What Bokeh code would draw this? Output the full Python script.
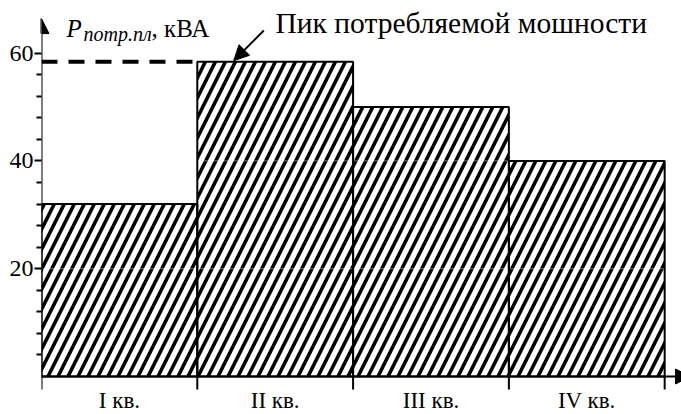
from bokeh.plotting import figure
from bokeh.models import Range1d, FixedTicker, Arrow, NormalHead, Label
from bokeh.embed import file_html
from bokeh.resources import INLINE

# ---- data ----
quarters = ["I кв.", "II кв.", "III кв.", "IV кв."]
power = [32, 58.4, 50, 40]
y_major = [20, 40, 60]
y_minor = [4, 8, 12, 16, 24, 28, 32, 36, 44, 48, 52, 56]
faint_lines = [20, 40]
y_title_main = "P"
y_title_sub = "потр.пл"
y_title_unit = ", кВА"
peak_text = "Пик потребляемой мошности"

FONT = "Liberation Serif"
n = len(quarters)
lefts = list(range(n))
rights = [i + 1 for i in lefts]
centers = [i + 0.5 for i in lefts]
bounds = list(range(n + 1))
peak = max(power)
i_peak = power.index(peak)

W, H = 681, 414
PX_PER_UNIT = 5.39          # vertical scale: pixels per kVA
Y0_PX = 376                 # page row of the zero line
LIFT = 9 / PX_PER_UNIT      # compensates the label baseline offset
p = figure(width=W, height=H, output_backend="svg", toolbar_location=None,
           x_range=Range1d(0, 4.108),
           y_range=Range1d(-(H - Y0_PX) / PX_PER_UNIT, Y0_PX / PX_PER_UNIT),
           min_border_left=41, min_border_right=0, min_border_top=0,
           min_border_bottom=0)
p.outline_line_color = None
p.xgrid.visible = False
p.ygrid.visible = False

# hatched bars
p.quad(left=lefts, right=rights, bottom=0, top=power, fill_color="white",
       line_color=None, hatch_pattern="/", hatch_color="black",
       hatch_scale=20, hatch_weight=3.6)
p.segment(x0=0, x1=n, y0=faint_lines, y1=faint_lines, line_color="white",
          line_alpha=0.45, line_width=1)
p.quad(left=lefts, right=rights, bottom=0, top=power, fill_color=None,
       line_color="black", line_width=2)

# peak dashed line
p.line(x=[0, i_peak], y=[peak, peak], line_color="black", line_width=4,
       line_dash="16 11")

# y axis
ya = p.yaxis[0]
ya.ticker = FixedTicker(ticks=y_major, minor_ticks=y_minor)
ya.axis_line_color = None
ya.major_tick_out = 7
ya.major_tick_in = 0
ya.minor_tick_out = 5
ya.minor_tick_in = 0
ya.major_tick_line_width = 2
ya.minor_tick_line_width = 2
ya.major_label_standoff = 1
ya.major_label_text_font = FONT
ya.major_label_text_font_size = "24px"
ya.major_label_text_color = "black"

# x axis drawn by hand: boundary ticks and quarter names
p.xaxis.visible = False
tick_len = -13 / PX_PER_UNIT
p.segment(x0=bounds, x1=bounds, y0=0, y1=tick_len, line_color="black",
          line_width=2)
label_y = -24 / PX_PER_UNIT
for cx, q in zip(centers, quarters):
    p.add_layout(Label(x=cx, y=label_y, text=q, text_align="center",
                       text_baseline="alphabetic", text_font=FONT,
                       text_font_size="23px", text_color="black"))

# axis arrows
p.add_layout(Arrow(end=NormalHead(size=15, fill_color="black", line_color="black"),
                   x_start=0, y_start=0, x_end=0, y_end=66.4,
                   line_width=2, line_color="black"))
p.add_layout(Arrow(end=NormalHead(size=15, fill_color="black", line_color="black"),
                   x_start=-0.083, y_start=0, x_end=4.166, y_end=0,
                   line_width=2, line_color="black"))

# y title
p.add_layout(Label(x=0.160, y=62.9 + LIFT, text=y_title_main, text_font=FONT,
                   text_font_style="italic", text_font_size="25px",
                   text_baseline="alphabetic", text_color="black"))
p.add_layout(Label(x=0.270, y=61.8 + LIFT, text=y_title_sub, text_font=FONT,
                   text_font_style="italic", text_font_size="20px",
                   text_baseline="alphabetic", text_color="black"))
p.add_layout(Label(x=0.706, y=62.9 + LIFT, text=y_title_unit, text_font=FONT,
                   text_font_size="25px", text_baseline="alphabetic",
                   text_color="black"))

# peak annotation
p.add_layout(Label(x=1.502, y=63.9 + LIFT, text=peak_text, text_font=FONT,
                   text_font_size="29.5px", text_baseline="alphabetic",
                   text_color="black"))
p.add_layout(Arrow(end=NormalHead(size=15, fill_color="black", line_color="black"),
                   x_start=1.427, y_start=64.2, x_end=1.234, y_end=58.6,
                   line_width=2, line_color="black"))

open("out.html", "w").write(file_html(p, INLINE))
